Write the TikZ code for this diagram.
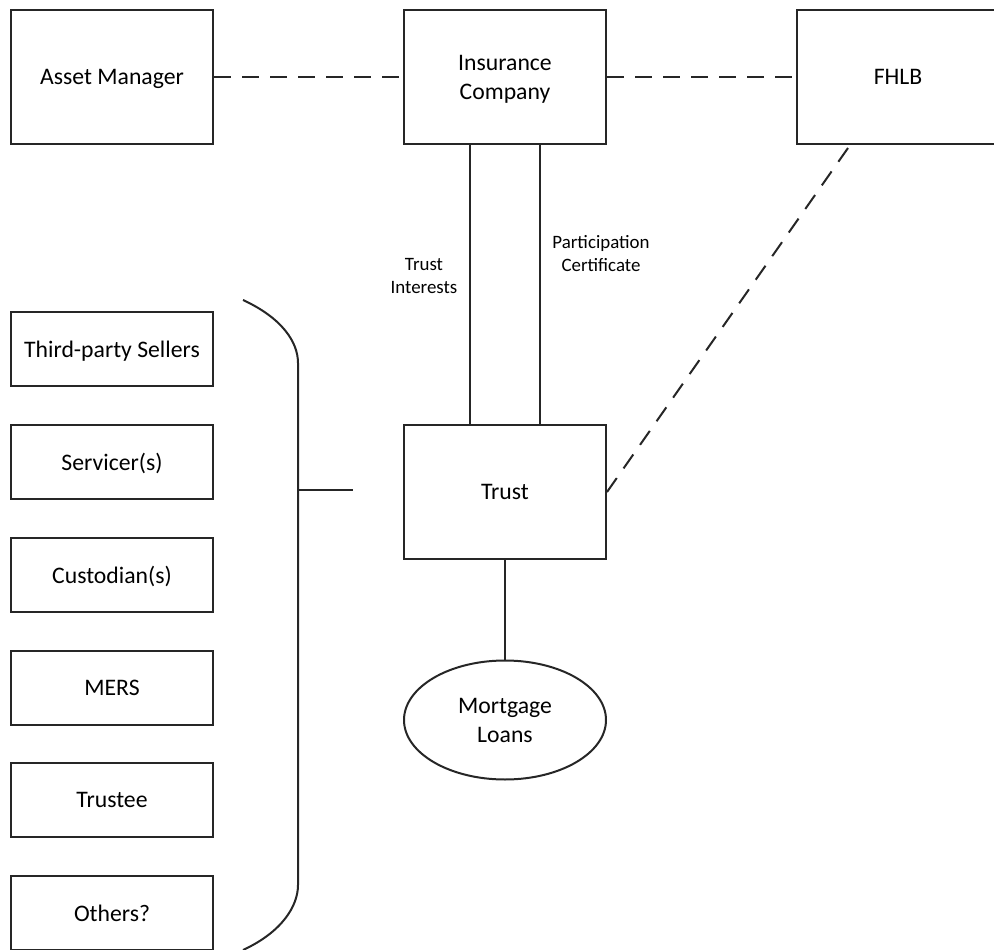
\documentclass[tikz,border=0pt]{standalone}
\usepackage{fontspec}
\setmainfont{Carlito}
\usetikzlibrary{calc,shapes.geometric}
\begin{document}
\begin{tikzpicture}[x=1pt,y=-1pt,
  line width=2pt,
  ink/.style={draw=black!85},
  box/.style={ink,rectangle,minimum width=202pt,minimum height=134pt,inner sep=0pt,align=center,
    text depth=0pt,font=\fontsize{23.7}{29}\selectfont},
  smallbox/.style={box,minimum height=74pt},
  loanshape/.style={ink,ellipse,minimum width=202pt,minimum height=119pt,inner sep=0pt,align=center,
    text depth=0pt,font=\fontsize{23.7}{29}\selectfont},
  lbl/.style={align=center,inner sep=0pt,font=\fontsize{18.9}{23}\selectfont},
  link/.style={ink},
  dlink/.style={ink,dash pattern=on 17pt off 11pt}]
\useasboundingbox (0,0) rectangle (994,950);
\clip (0,0) rectangle (994,950);

% top row
\node[box] (am)   at (112,77) {Asset Manager};
\node[box] (ins)  at (505,77) {Insurance\\Company};
\node[box] (fhlb) at (898,77) {FHLB};

% trust and its loans
\node[box] (trust) at (505,492) {Trust};
\node[loanshape] (loans) at (505,720) {Mortgage\\Loans};

% parties on the left
\node[smallbox] (sellers)   at (112,349) {Third-party Sellers};
\node[smallbox] (servicer)  at (112,462) {Servicer(s)};
\node[smallbox] (custodian) at (112,575) {Custodian(s)};
\node[smallbox] (mers)      at (112,688) {MERS};
\node[smallbox] (trustee)   at (112,800) {Trustee};
\node[smallbox] (others)    at (112,913) {Others?};

% dashed relationships
\draw[dlink] (am.east) -- (ins.west);
\draw[dlink] (ins.east) -- (fhlb.west);
\coordinate (fhlbfoot) at (848,148);
\draw[dlink,dash pattern=on 17pt off 11.8pt] (trust.east) -- (fhlbfoot);

% insurance company <-> trust
\draw[link] ($(ins.south)+(-35,0)$) -- ($(trust.north)+(-35,0)$);
\draw[link] ($(ins.south)+(35,0)$) -- ($(trust.north)+(35,0)$);
\node[lbl] (ti) at (424,276) {Trust\\Interests};
\node[lbl] (pc) at (601,254) {Participation\\Certificate};

% trust -> loans
\draw[link] (trust.south) -- (loans.north);

% brace grouping the parties
\draw[ink] (243,300) .. controls (282,318) and (298,342) .. (298,363)
  -- (298,885) .. controls (298,906) and (282,932) .. (243,950);
\coordinate (bracetip) at (353,490);
\draw[ink] (298,490) -- (bracetip);
\end{tikzpicture}
\end{document}
